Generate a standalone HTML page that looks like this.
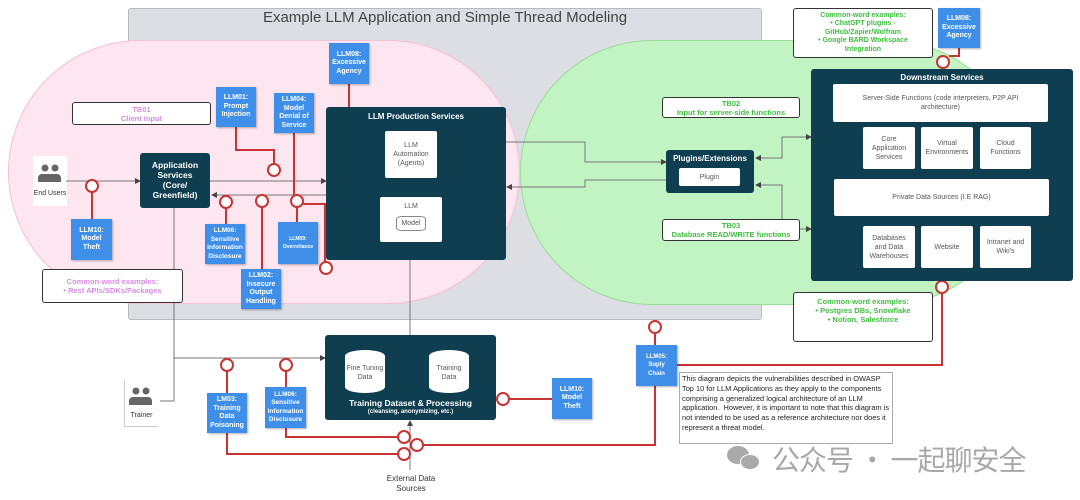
<!DOCTYPE html>
<html><head><meta charset="utf-8"><style>
*{margin:0;padding:0;box-sizing:border-box}
body{width:1080px;height:500px;background:#fff;position:relative;overflow:hidden;font-family:"Liberation Sans","Noto Sans CJK SC",sans-serif}
.a{position:absolute}
.blue{position:absolute;background:#3f8fe8;color:#fff;font-weight:bold;font-size:7px;line-height:8.5px;text-align:center;display:flex;align-items:center;justify-content:center;box-shadow:1px 1px 2px rgba(0,0,0,.3)}
.dark{position:absolute;background:#0f3e50;border-radius:3px;color:#fff}
.wb{position:absolute;background:#fff;color:#555;font-size:7px;line-height:9px;text-align:center;display:flex;align-items:center;justify-content:center;border-radius:2px}
.note{position:absolute;background:#fff;border:1.5px solid #333;border-radius:3px;font-size:7.5px;font-weight:bold;text-align:center;line-height:9px;display:flex;flex-direction:column;justify-content:center}
.pk{color:#d58ee0}.gr{color:#3fbf3f}
</style></head><body>
<div class="a" style="left:128px;top:8px;width:634px;height:312px;background:#dcdee3;border:1px solid #b8bac0;border-radius:3px"></div>
<div class="a" style="left:128px;top:9px;width:634px;text-align:center;font-size:15px;color:#444">Example LLM Application and Simple Thread Modeling</div>
<div class="a" style="left:8px;top:40px;width:512px;height:264px;background:#fde6f0;border:1px solid #f3c2d6;border-radius:132px"></div>
<div class="a" style="left:520px;top:40px;width:500px;height:265px;background:#c2f3c2;border:1px solid #98dd98;border-radius:132px"></div>

<!-- end users / trainer boxes -->
<div class="a" style="left:33px;top:156px;width:34px;height:50px;background:#fff;font-size:7px;color:#333;text-align:center;padding-top:34px">End Users</div>
<div class="a" style="left:124px;top:380px;width:34px;height:47px;background:#fff;font-size:7px;color:#333;text-align:center;padding-top:32px;border-left:1px solid #ccc;border-bottom:1px solid #ccc">Trainer</div>

<svg class="a" style="left:0;top:0" width="1080" height="500">
<defs><marker id="ar" markerWidth="6" markerHeight="6" refX="5" refY="3" orient="auto"><path d="M0,0L6,3L0,6z" fill="#444"/></marker></defs>
<g fill="#666">
<circle cx="45" cy="168" r="3.5"/><circle cx="55" cy="168" r="3.5"/>
<path d="M38,182v-4a4,4 0 0 1 4,-4h7a4,4 0 0 1 4,4v4z"/><path d="M51,182v-4a4,4 0 0 0 -1,-4h7a4,4 0 0 1 4,4v4z"/>
<circle cx="136" cy="391" r="3.5"/><circle cx="146" cy="391" r="3.5"/>
<path d="M129,405v-4a4,4 0 0 1 4,-4h7a4,4 0 0 1 4,4v4z"/><path d="M142,405v-4a4,4 0 0 0 -1,-4h7a4,4 0 0 1 4,4v4z"/>
</g>
<g stroke="#777" stroke-width="1" fill="none">
<path d="M66,181H140" marker-end="url(#ar)"/>
<path d="M210,181H326" marker-end="url(#ar)"/>
<path d="M326,195H212" marker-end="url(#ar)"/>
<path d="M506,142H585V162H666" marker-end="url(#ar)"/>
<path d="M666,180H585V187H507" marker-end="url(#ar)"/>
<path d="M811,137H782V158H756" marker-end="url(#ar)"/>
<path d="M811,229H782V185H756" marker-end="url(#ar)"/>
<path d="M782,229H811" marker-end="url(#ar)"/>
<path d="M782,137H811" marker-end="url(#ar)"/>
<path d="M174,208V401H160"/>
<path d="M174,358H325" marker-end="url(#ar)"/>
<path d="M410,242V335"/>
<path d="M410,470V421" marker-end="url(#ar)"/>
<path d="M411,197V180" stroke-dasharray="2,2"/>
</g>
<g stroke="#c83434" stroke-width="2" fill="none">
<path d="M92,219V192"/>
<path d="M236,127V150H274V164"/>
<path d="M294,133V195"/>
<path d="M303,204H325V262"/>
<path d="M297,207V222"/>
<path d="M226,224V208"/>
<path d="M262,269V207"/>
<path d="M349,84V155H371"/>
<path d="M959,48V56H949"/>
<path d="M942,293V365H677"/>
<path d="M655,333V345"/>
<path d="M655,386V445H423"/>
<path d="M286,428V437H398"/>
<path d="M227,371V393"/>
<path d="M286,371V387"/>
<path d="M227,433V454H398"/>
<path d="M509,399H552"/>
</g>
<g stroke="#c83434" stroke-width="2" fill="#fff">
<circle cx="92" cy="186" r="6"/><circle cx="274" cy="170" r="6"/><circle cx="226" cy="202" r="6"/>
<circle cx="262" cy="201" r="6"/><circle cx="297" cy="201" r="6"/><circle cx="326" cy="268" r="6"/>
<circle cx="377" cy="155" r="6"/><circle cx="943" cy="62" r="6"/><circle cx="942" cy="287" r="6"/>
<circle cx="655" cy="327" r="6"/><circle cx="227" cy="365" r="6"/><circle cx="286" cy="365" r="6"/>
<circle cx="503" cy="399" r="6"/><circle cx="404" cy="437" r="6"/><circle cx="417" cy="445" r="6"/><circle cx="404" cy="454" r="6"/>
</g>
</svg>

<div class="dark" style="left:140px;top:153px;width:70px;height:55px;font-size:8.5px;font-weight:bold;text-align:center;line-height:10px;padding-top:7px">Application<br>Services<br>(Core/<br>Greenfield)</div>

<div class="note" style="left:72px;top:102px;width:139px;height:23px"><span class="pk">TB01</span><span class="pk">Client Input</span></div>
<div class="note" style="left:42px;top:269px;width:141px;height:34px"><span class="pk">Common-word examples:</span><span class="pk">• Rest APIs/SDKs/Packages</span></div>

<div class="blue" style="left:329px;top:43px;width:40px;height:41px">LLM08:<br>Excessive<br>Agency</div>
<div class="blue" style="left:216px;top:87px;width:40px;height:40px">LLM01:<br>Prompt<br>Injection</div>
<div class="blue" style="left:274px;top:93px;width:40px;height:40px">LLM04:<br>Model<br>Denial of<br>Service</div>
<div class="blue" style="left:71px;top:219px;width:41px;height:41px">LLM10:<br>Model<br>Theft</div>
<div class="blue" style="left:205px;top:224px;width:40px;height:40px;font-size:6.5px">LLM06:<br>Sensitive<br>Information<br>Disclosure</div>
<div class="blue" style="left:278px;top:222px;width:40px;height:42px;font-size:5px">LLM09:<br>Overreliance</div>
<div class="blue" style="left:241px;top:269px;width:40px;height:40px">LLM02:<br>Insecure<br>Output<br>Handling</div>

<div class="dark" style="left:326px;top:107px;width:180px;height:153px"><div style="text-align:center;font-size:8px;font-weight:bold;margin-top:5px">LLM Production Services</div></div>
<div class="wb" style="left:385px;top:131px;width:52px;height:47px">LLM<br>Automation<br>(Agents)</div>
<div class="wb" style="left:380px;top:197px;width:62px;height:45px;flex-direction:column;justify-content:flex-start;padding-top:5px">LLM<div style="margin-top:5px;border:1px solid #888;border-radius:6px/3px;width:30px;height:15px;line-height:13px">Model</div></div>

<div class="note" style="left:793px;top:8px;width:140px;height:50px;font-size:7px;line-height:8.5px"><span class="gr">Common-word examples:</span><span class="gr">• ChatGPT plugins -</span><span class="gr">GitHub/Zapier/Wolfram</span><span class="gr">• Google BARD Workspace</span><span class="gr">Integration</span></div>
<div class="blue" style="left:938px;top:8px;width:42px;height:40px">LLM08:<br>Excessive<br>Agency</div>
<div class="note" style="left:662px;top:97px;width:138px;height:21px"><span class="gr">TB02</span><span class="gr">Input for server-side functions</span></div>
<div class="note" style="left:662px;top:219px;width:138px;height:22px"><span class="gr">TB03</span><span class="gr">Database READ/WRITE functions</span></div>
<div class="dark" style="left:666px;top:150px;width:88px;height:43px"><div style="text-align:center;font-size:8px;font-weight:bold;margin-top:4px">Plugins/Extensions</div></div>
<div class="wb" style="left:679px;top:168px;width:61px;height:18px">Plugin</div>
<div class="note" style="left:793px;top:292px;width:140px;height:50px;justify-content:flex-start;padding-top:4px"><span class="gr">Common-word examples:</span><span class="gr">• Postgres DBs, Snowflake</span><span class="gr">• Notion, Salesforce</span></div>

<div class="dark" style="left:811px;top:69px;width:262px;height:212px"><div style="text-align:center;font-size:8px;font-weight:bold;margin-top:4px">Downstream Services</div></div>
<div class="wb" style="left:833px;top:84px;width:215px;height:38px">Server-Side Functions (code interpreters, P2P API<br>architecture)</div>
<div class="wb" style="left:863px;top:127px;width:52px;height:42px">Core<br>Application<br>Services</div>
<div class="wb" style="left:921px;top:127px;width:52px;height:42px">Virtual<br>Environments</div>
<div class="wb" style="left:980px;top:127px;width:51px;height:42px">Cloud<br>Functions</div>
<div class="wb" style="left:834px;top:179px;width:215px;height:37px">Private Data Sources (I.E RAG)</div>
<div class="wb" style="left:863px;top:226px;width:52px;height:42px">Databases<br>and Data<br>Warehouses</div>
<div class="wb" style="left:921px;top:226px;width:52px;height:42px">Website</div>
<div class="wb" style="left:980px;top:226px;width:51px;height:42px">Intranet and<br>Wiki's</div>

<div class="dark" style="left:325px;top:335px;width:171px;height:85px"></div>
<div class="a" style="left:345px;top:350px;width:40px;height:43px;background:#fff;border-radius:20px/6px;font-size:7px;color:#555;text-align:center;padding-top:14px;line-height:9px">Fine Tuning<br>Data</div>
<div class="a" style="left:429px;top:350px;width:40px;height:43px;background:#fff;border-radius:20px/6px;font-size:7px;color:#555;text-align:center;padding-top:14px;line-height:9px">Training<br>Data</div>
<div class="a" style="left:325px;top:398px;width:171px;text-align:center;color:#fff;font-size:8.5px;font-weight:bold">Training Dataset &amp; Processing</div>
<div class="a" style="left:325px;top:409px;width:171px;text-align:center;color:#fff;font-size:6px;font-weight:bold">(cleansing, anonymizing, etc.)</div>

<div class="blue" style="left:207px;top:393px;width:40px;height:40px">LM03:<br>Training<br>Data<br>Poisoning</div>
<div class="blue" style="left:265px;top:387px;width:41px;height:41px;font-size:6.5px">LLM06:<br>Sensitive<br>Information<br>Disclosure</div>
<div class="blue" style="left:552px;top:378px;width:40px;height:41px">LLM10:<br>Model<br>Theft</div>
<div class="blue" style="left:636px;top:345px;width:41px;height:41px;font-size:6px">LLM05:<br>Suply<br>Chain</div>
<div class="a" style="left:381px;top:474px;width:60px;text-align:center;font-size:8px;color:#333;line-height:10px">External Data<br>Sources</div>

<div class="a" style="left:679px;top:372px;width:214px;height:72px;background:#fff;border:1px solid #aaa;font-size:7.4px;line-height:9.8px;color:#222;padding:1px 2px">This diagram depicts the vulnerabilities described in OWASP Top 10 for LLM Applications as they apply to the components comprising a generalized logical architecture of an LLM application.&nbsp; However, it is important to note that this diagram is not intended to be used as a reference architecture nor does it represent a threat model.</div>

<div class="a" style="left:727px;top:443px;width:40px;height:30px">
<div class="a" style="left:0;top:3px;width:22px;height:18px;background:#aaa;border-radius:50%"></div>
<div class="a" style="left:13px;top:11px;width:20px;height:16px;background:#aaa;border-radius:50%;border:1.5px solid #fff"></div>
</div>
<div class="a" style="left:772px;top:439px;font-size:28px;letter-spacing:-1px;color:#a8a8a8;font-family:'Noto Sans CJK SC',sans-serif">公众号 · 一起聊安全</div>
</body></html>
